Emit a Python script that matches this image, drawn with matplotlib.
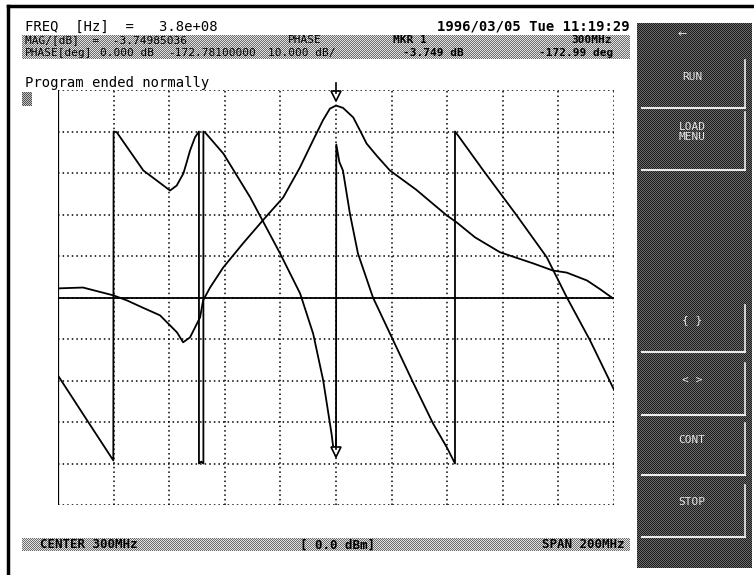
import numpy as np
import matplotlib.pyplot as plt
from matplotlib.patches import Rectangle
from matplotlib.colors import ListedColormap

W, H = 754, 575

# magnitude trace: frequency (MHz) / level (dB), REF 0 dB at top, 10 dB/div
mag_freq = [200, 209, 220, 224.8, 230, 236.7, 242.8, 245, 247.5, 251.1, 252.2, 254.7,
            259.4, 266.5, 273.7, 281, 287, 291.7, 295.3, 297.8, 300, 302.5, 306.2,
            309.2, 311, 314.6, 319.4, 328.8, 339.8, 343.4, 350, 359, 371, 378, 383,
            390.3, 395, 399.6]
mag_db = [-47.8, -47.6, -49.5, -50.7, -52.3, -54.3, -58.4, -60.8, -59.6, -54.8, -50.7, -47.6,
          -42.8, -37.0, -31.4, -25.9, -18.7, -12.2, -7.3, -4.5, -3.75, -4.3, -6.6,
          -10.5, -12.9, -15.8, -19.4, -24.0, -30.2, -31.9, -35.5, -39.1, -41.8, -43.5, -44.0,
          -45.9, -48.0, -50.2]

# phase trace: frequency (MHz) / phase (deg), 45 deg/div, wraps at +-180
ph_freq = [200, 210, 219.9, 220, 221.1, 230.7, 235.5, 240.3, 242.7, 245.1, 246.3,
           247.5, 249.3, 250.7, 250.7, 251.5, 252.3, 252.3, 252.9, 259.5, 269.1,
           279.9, 287.1, 291.8, 295.4, 298.4, 299, 300, 300.1, 301.2, 302.5, 305,
           307.9, 313.3, 319.4, 327.7, 334.9, 339.9, 342.8, 342.8, 343.9, 353,
           365, 375.8, 383, 391.4, 400]
ph_deg = [-84.6, -131, -176.7, 180, 179.3, 137.7, 126.9, 116, 121.4, 134.5, 146.7,
          159.4, 173.8, 180, -180, -178, -180, 180, 179, 156, 108.8,
          47.7, 4.3, -39.4, -90, -147.8, -162.3, -173, 166, 147, 137.7, 91,
          47.7, 0, -39, -92, -136.6, -162.7, -180, 180, 175.7, 137.7,
          89, 43.7, 0.3, -46.6, -100]

mkr_freq = 300
mkr_mag = -3.749
mkr_phase = -172.99

softkeys = ['RUN', 'LOAD\nMENU', '{ }', '< >', 'CONT', 'STOP']
key_top = [60, 112, 305, 363, 423, 485]
key_bot = [108, 170, 352, 415, 475, 537]
key_text_y = [77, 132, 320, 380, 440, 502]

mono = 'DejaVu Sans Mono'

fig = plt.figure(figsize=(W / 100, H / 100), dpi=100)
bg = fig.add_axes([0, 0, 1, 1])
bg.set_xlim(0, W)
bg.set_ylim(H, 0)
bg.axis('off')


def dither(x, y, w, h, c_lo, c_hi):
    # checkerboard like the screen's halftone shading
    i, j = np.indices((h, w))
    pat = (i + j) % 2
    bg.imshow(pat, cmap=ListedColormap([c_lo, c_hi]), extent=(x, x + w, y + h, y),
              interpolation='nearest', aspect='auto', zorder=0)


# page border
bg.plot([8, 8], [6, H], color='black', lw=2.5)
bg.plot([8, W], [6, 6], color='black', lw=2.5)

# shaded header lines and status bar
dither(22, 35, 608, 24, '#6e6e6e', '#e0e0e0')
dither(22, 92, 10, 14, '#505050', '#c0c0c0')
dither(22, 538, 608, 13, '#6e6e6e', '#e0e0e0')

# header text
fs = 10
fs2 = 8
bg.text(25, 27, 'FREQ  [Hz]  =   3.8e+08', family=mono, fontsize=fs, va='center')
bg.text(630, 27, '1996/03/05 Tue 11:19:29', family=mono, fontsize=fs,
        fontweight='bold', ha='right', va='center')
bg.text(25, 40, 'MAG/[dB]  =  -3.74985036', family=mono, fontsize=fs2, va='center')
bg.text(288, 40, 'PHASE', family=mono, fontsize=fs2, va='center')
bg.text(393, 40, 'MKR 1', family=mono, fontsize=fs2, fontweight='bold', va='center')
bg.text(612, 40, '300MHz', family=mono, fontsize=fs2, fontweight='bold', ha='right', va='center')
bg.text(25, 53, 'PHASE[deg]', family=mono, fontsize=fs2, va='center')
bg.text(100, 53, '0.000 dB', family=mono, fontsize=fs2, va='center')
bg.text(168, 53, '-172.78100000', family=mono, fontsize=fs2, va='center')
bg.text(268, 53, '10.000 dB/', family=mono, fontsize=fs2, va='center')
bg.text(403, 53, '%.3f dB' % mkr_mag, family=mono, fontsize=fs2, fontweight='bold', va='center')
bg.text(613, 53, '%.2f deg' % mkr_phase, family=mono, fontsize=fs2, fontweight='bold',
        ha='right', va='center')
bg.text(25, 83, 'Program ended normally', family=mono, fontsize=fs, va='center')

# status bar
bg.text(40, 545, 'CENTER 300MHz', family=mono, fontsize=9, fontweight='bold', va='center')
bg.text(300, 545, '[ 0.0 dBm]', family=mono, fontsize=9, fontweight='bold', va='center')
bg.text(625, 545, 'SPAN 200MHz', family=mono, fontsize=9, fontweight='bold', ha='right', va='center')

# softkey panel
dither(637, 23, 115, 545, '#1c1c1c', '#6a6a6a')
bg.text(682, 34, '\u2190', color='#dddddd', fontsize=8, ha='center', va='center')
for lab, t, b, ty in zip(softkeys, key_top, key_bot, key_text_y):
    bg.plot([642, 745], [b, b], color='#ececec', lw=1.5)
    bg.plot([745, 745], [t, b], color='#ececec', lw=1.2)
    bg.text(692, ty, lab, color='#e6e6e6', family=mono, fontsize=8,
            ha='center', va='center', linespacing=1.0)

# trace area
x0, x1, y0, y1 = 58, 614, 90, 505
ax = fig.add_axes([x0 / W, 1 - y1 / H, (x1 - x0) / W, (y1 - y0) / H])
ax.set_xlim(200, 400)
ax.set_ylim(-5, 5)
ax.set_xticks(np.arange(200, 401, 20))
ax.set_yticks(np.arange(-5, 6, 1))
ax.grid(True, color='black', linestyle=(0, (1, 2)), lw=1.1)
ax.tick_params(length=0, labelbottom=False, labelleft=False)
for s in ax.spines.values():
    s.set_visible(False)
ax.patch.set_alpha(0)
ax.axvline(200, color='black', lw=1.6)
ax.axhline(0, color='black', lw=1.3)

ax.plot(ph_freq, np.array(ph_deg) / 45, color='black', lw=1.3)
ax.plot(mag_freq, (np.array(mag_db) + 50) / 10, color='black', lw=1.3)

# markers
ym = (mkr_mag + 50) / 10
ax.plot(mkr_freq, ym + 0.22, marker='v', ms=7, mfc='white', mec='black', mew=1.2, clip_on=False)
ax.plot([mkr_freq, mkr_freq], [ym + 0.3, ym + 0.55], color='black', lw=1.2, clip_on=False)
yp = mkr_phase / 45
ax.plot(mkr_freq, yp + 0.12, marker='v', ms=7, mfc='white', mec='black', mew=1.2)
ax.plot([mkr_freq, mkr_freq], [yp + 0.2, yp + 0.45], color='black', lw=1.2)

fig.savefig('out.png', dpi=100)
